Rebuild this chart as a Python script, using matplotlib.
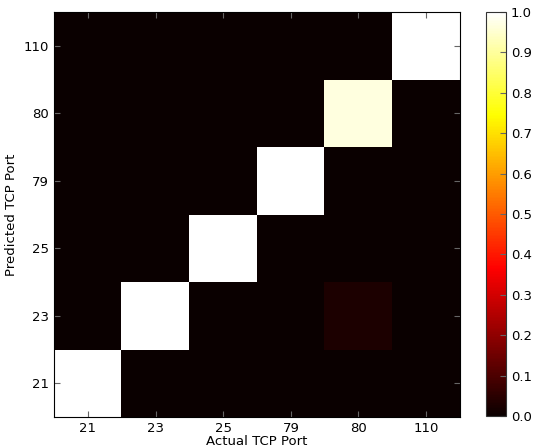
import numpy as np
import matplotlib
matplotlib.use("Agg")
import matplotlib.pyplot as plt

# ports (actual = columns, predicted = rows)
ports = ["21", "23", "25", "79", "80", "110"]

# normalized confusion matrix, rows = predicted, cols = actual
row_21 = [1.0, 0.0, 0.0, 0.0, 0.0, 0.0]
row_23 = [0.0, 1.0, 0.0, 0.0, 0.03, 0.0]
row_25 = [0.0, 0.0, 1.0, 0.0, 0.0, 0.0]
row_79 = [0.0, 0.0, 0.0, 1.0, 0.0, 0.0]
row_80 = [0.0, 0.0, 0.0, 0.0, 0.965, 0.0]
row_110 = [0.0, 0.0, 0.0, 0.0, 0.0, 1.0]

cm = np.array([row_21, row_23, row_25, row_79, row_80, row_110])

plt.rcParams["xtick.direction"] = "in"
plt.rcParams["ytick.direction"] = "in"
plt.rcParams["font.size"] = 9.5

fig = plt.figure(figsize=(5.33, 4.48), dpi=100)
ax = fig.add_axes([54/533, 1 - 417/448, 406/533, 405/448])
im = ax.imshow(cm, cmap="hot", interpolation="nearest", origin="lower",
               vmin=0, vmax=1, aspect="auto")

ax.set_xticks(range(len(ports)))
ax.set_xticklabels(ports)
ax.set_yticks(range(len(ports)))
ax.set_yticklabels(ports)
ax.tick_params(top=True, right=True, length=4, color="0.4")
ax.set_xlabel("Actual TCP Port", labelpad=0)
ax.set_ylabel("Predicted TCP Port")

cax = fig.add_axes([486/533, 1 - 416/448, 20/533, 404/448])
cb = fig.colorbar(im, cax=cax, ticks=np.arange(0, 1.01, 0.1))
cb.ax.tick_params(length=4, direction="in", color="0.4")
cb.ax.set_yticklabels(["%.1f" % t for t in np.arange(0, 1.01, 0.1)])
cb.outline.set_edgecolor("0.2")

plt.savefig("out.png", dpi=100)
plt.close()
